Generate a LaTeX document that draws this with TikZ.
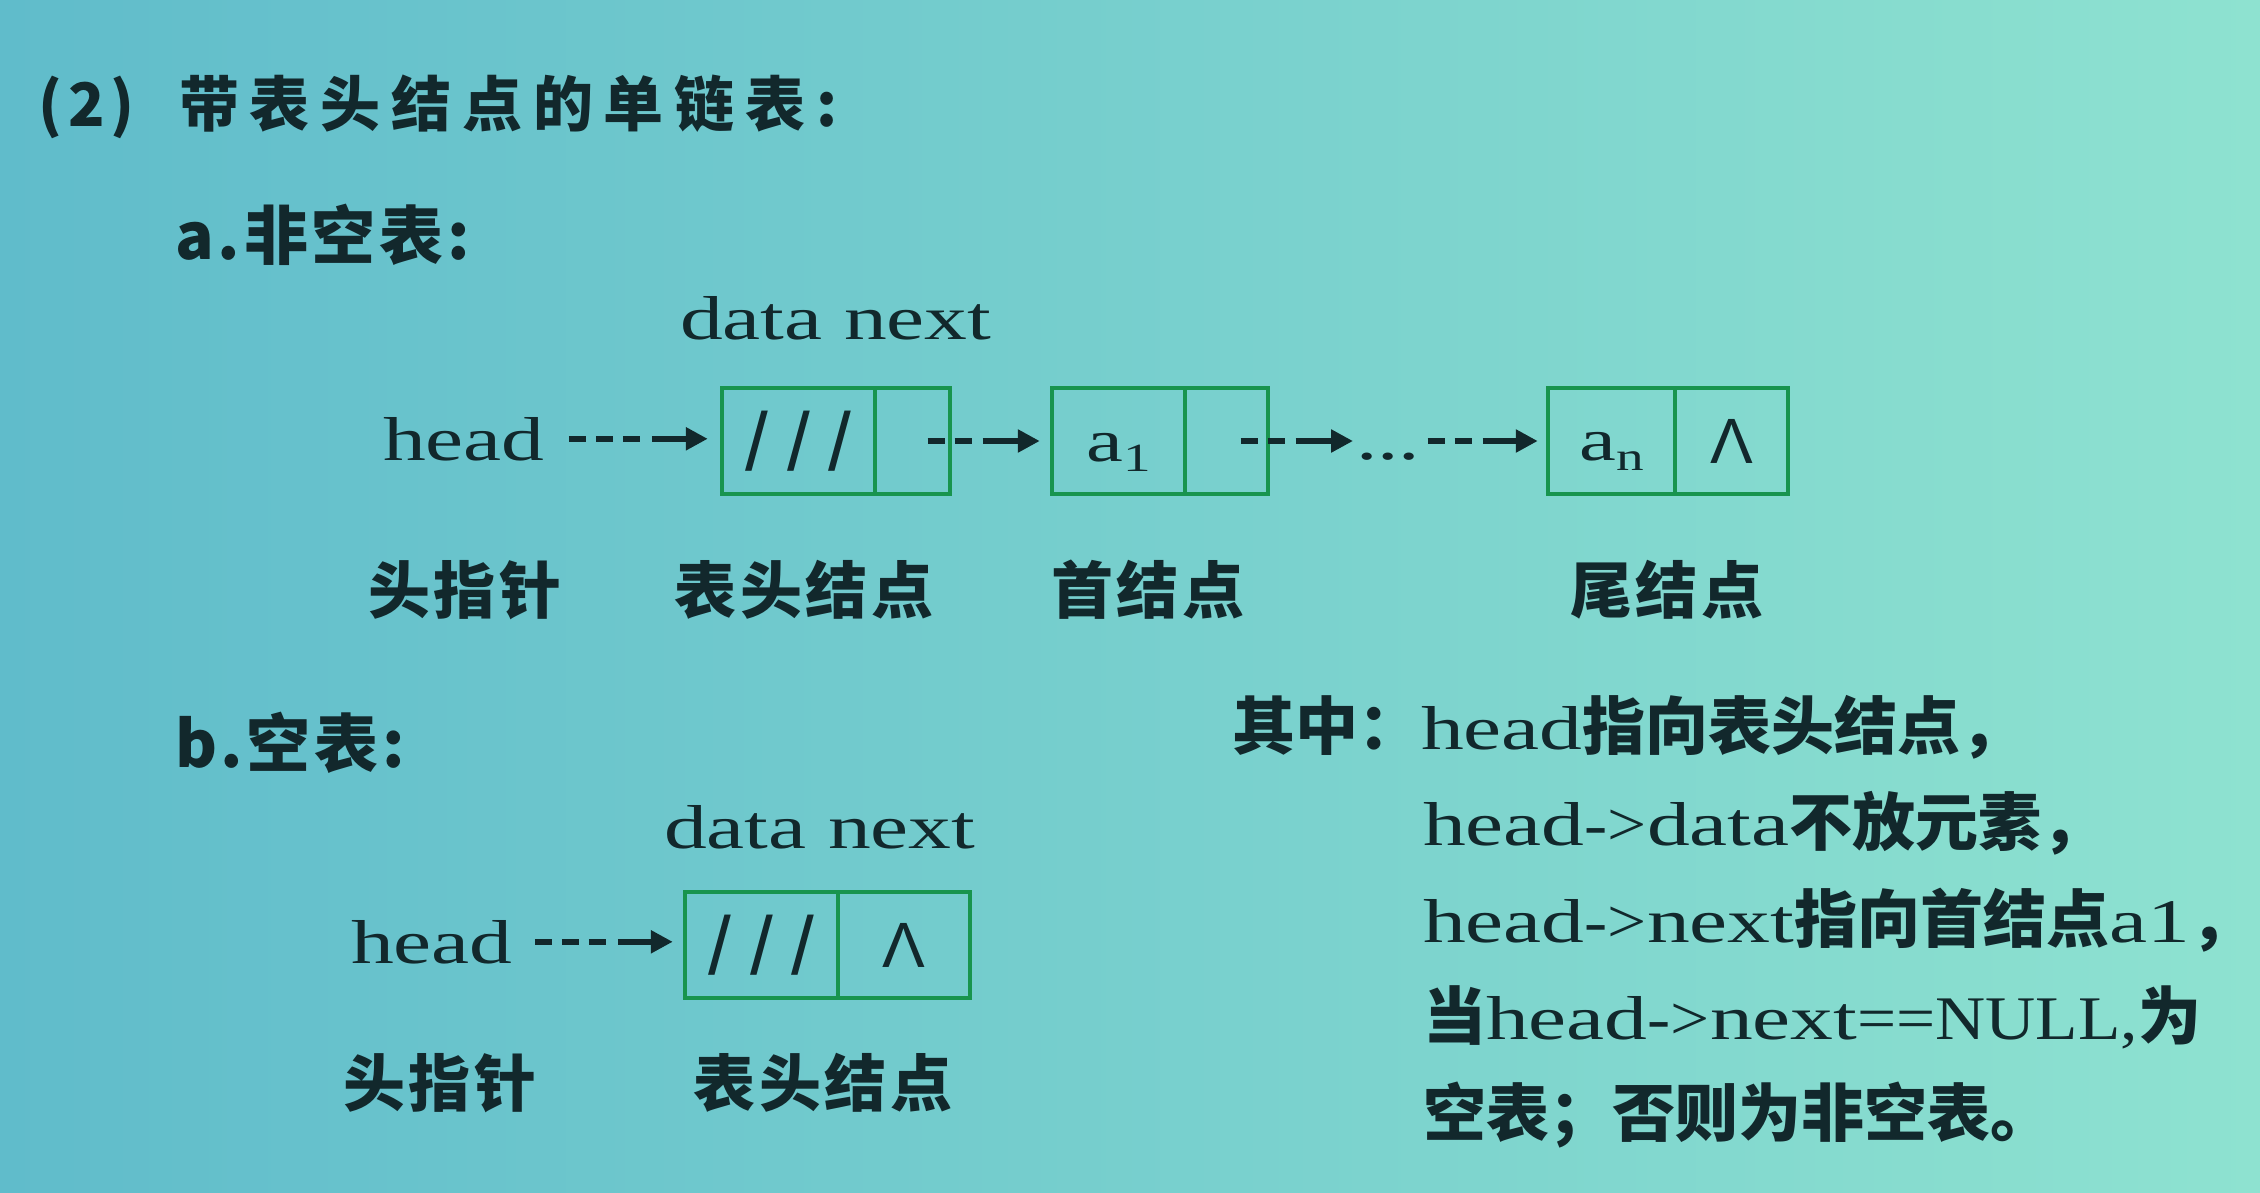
\documentclass[tikz,border=0pt]{standalone}
\usepackage{fontspec}
\setmainfont{Liberation Serif}[FakeStretch=1.38]
\newfontfamily\serifnarrow{Liberation Serif}[FakeStretch=1.12]
\newfontfamily\cjkfam{Noto Sans CJK SC}
\newcommand\cjk{\cjkfam\bfseries}
\newfontfamily\plainsans{Liberation Sans}
\usetikzlibrary{arrows.meta,calc}

\definecolor{ink}{RGB}{18,40,44}
\definecolor{boxgreen}{RGB}{24,148,78}
\definecolor{bgleft}{RGB}{96,188,203}
\definecolor{bgright}{RGB}{142,226,208}

\newcommand\setpx[1]{\fontsize{#1pt}{#1pt}\selectfont}
\newcommand\zh[1]{{\cjk\setpx{63}#1}}
\newcommand\sym[1]{{\serifnarrow #1}}
\newcommand\slashes{{\plainsans\setpx{82}/\hspace{19pt}/\hspace{19pt}/}}
\newcommand\nullptr{{\plainsans\setpx{64}Λ}}

\begin{document}
\begin{tikzpicture}[x=1pt,y=-1pt,
  txt/.style={anchor=base west, inner sep=0pt, text=ink, font=\setpx{62}},
  heading/.style={anchor=base west, inner sep=0pt, text=ink},
  lbl/.style={anchor=base, inner sep=0pt, text=ink, font={\cjk\setpx{62}\addfontfeature{LetterSpace=6}}},
  cell/.style={draw=boxgreen, line width=4.5pt, minimum height=106pt, inner sep=0pt, text=ink, font=\setpx{62}},
  link/.style={draw=ink, line width=6.5pt, -{Triangle[length=22pt,width=22pt]}},
  dashtwo/.style={dash pattern=on 17pt off 10pt on 17pt off 11pt on 600pt off 1pt},
  dashthree/.style={dash pattern=on 17pt off 10pt on 17pt off 10pt on 17pt off 12pt on 600pt off 1pt},
]
\useasboundingbox (0,0) rectangle (2260,1192);
\shade[left color=bgleft, right color=bgright] (0,0) rectangle (2260,1192);

% headings
\node[heading, font={\cjk\setpx{60}\addfontfeature{LetterSpace=10}}] (num) at (38,126) {(2)};
\node[heading, font={\cjk\setpx{60}\addfontfeature{LetterSpace=18}}] (title) at (179,126) {带表头结点的单链表:};
\node[heading, font={\cjk\setpx{64}\addfontfeature{LetterSpace=6}}] (secA) at (175,259) {a.非空表:};
\node[heading, font={\cjk\setpx{64}\addfontfeature{LetterSpace=6}}] (secB) at (175,767) {b.空表:};

% non-empty list
\node[txt] (dn1) at (680,339) {data next};
\node[txt] (h1) at (383,460) {head};

\node[cell, minimum width=153pt] (c1d) at (798.5,441) {\slashes};
\node[cell, minimum width=75pt]  (c1n) at (912.5,441) {};
\node[cell, minimum width=133pt, text height=40pt, text depth=0pt] (c2d) at (1118.5,441)
  {\setpx{60}a\raisebox{-10pt}{\setpx{40}1}};
\node[cell, minimum width=83pt]  (c2n) at (1226.5,441) {};
\node[txt] (dots) at (1356,459) {...};
\node[cell, minimum width=127pt, text height=38pt, text depth=0pt] (c3d) at (1611.5,441)
  {\setpx{60}a\raisebox{-10pt}{\setpx{40}n}};
\node[cell, minimum width=113pt] (c3n) at (1731.5,441) {\nullptr};

\draw[link, dashthree, shorten <=24pt, shorten >=12pt] (h1.east) -- (h1.east -| c1d.west);
\draw[link, dashtwo, shorten <=15pt, shorten >=10pt] (c1n.center) -- (c1n.center -| c2d.west);
\draw[link, dashtwo, shorten <=14pt, shorten >=3pt] (c2n.center) -- (c2n.center -| dots.west);
\draw[link, dashtwo, shorten <=7pt, shorten >=8pt] (dots.east |- c3d.west) -- (c3d.west);

\node[lbl] (l1) at (465,613) {头指针};
\node[lbl] (l2) at (804,613) {表头结点};
\node[lbl] (l3) at (1148,613) {首结点};
\node[lbl] (l4) at (1667,613) {尾结点};

% empty list
\node[txt] (dn2) at (664,848) {data next};
\node[txt] (h2) at (351,963) {head};
\node[cell, minimum width=153pt] (c5d) at (761.5,945) {\slashes};
\node[cell, minimum width=132pt] (c5n) at (904,945) {\nullptr};
\draw[link, dashthree, shorten <=22pt, shorten >=10pt] (h2.east) -- (h2.east -| c5d.west);

\node[lbl] (l5) at (440,1106) {头指针};
\node[lbl] (l6) at (823,1106) {表头结点};

% notes
\node[txt] (t1) at (1232,749) {\zh{其中：}head\zh{指向表头结点，}};
\node[txt] (t2) at (1423,845) {head\sym{->}data\zh{不放元素，}};
\node[txt] (t3) at (1423,942) {head\sym{->}next\zh{指向首结点}a1\zh{，}};
\node[txt] (t4) at (1423,1039) {\zh{当}head\sym{->}next\sym{==NULL,}\zh{为}};
\node[txt] (t5) at (1423,1136) {\zh{空表；否则为非空表。}};
\end{tikzpicture}
\end{document}
